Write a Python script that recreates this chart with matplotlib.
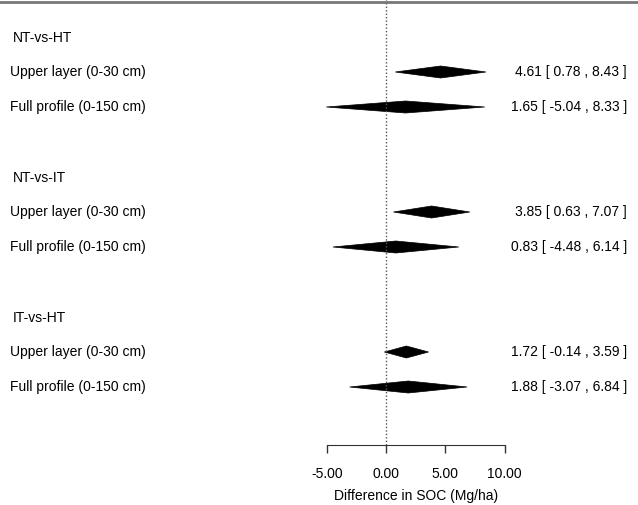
import matplotlib
matplotlib.use("Agg")
import matplotlib.pyplot as plt
from matplotlib.patches import Polygon
from matplotlib.lines import Line2D

plt.rcParams['font.family'] = ['Liberation Sans', 'DejaVu Sans']

groups = ["NT-vs-HT", "NT-vs-IT", "IT-vs-HT"]
row_labels = ["Upper layer (0-30 cm)", "Full profile (0-150 cm)"]
estimates = [4.61, 1.65, 3.85, 0.83, 1.72, 1.88]
lower = [0.78, -5.04, 0.63, -4.48, -0.14, -3.07]
upper = [8.43, 8.33, 7.07, 6.14, 3.59, 6.84]
xticks = [-5, 0, 5, 10]
xlabel = "Difference in SOC (Mg/ha)"

W, H = 638, 505
fig = plt.figure(figsize=(W / 100, H / 100), dpi=100)
axis_y = 445  # pixel row of axis line from top
ax = fig.add_axes([0, 1 - axis_y / H, 1, axis_y / H])
px_per_unit = 11.85
x0 = 386
ax.set_xlim(-x0 / px_per_unit, (W - x0) / px_per_unit)
ax.set_ylim(axis_y, 0)

group_y = [38, 178, 318]
row_off = [34, 69]
half_h = 6.0
fs = 10

k = 0
for g, gy in zip(groups, group_y):
    fig.text(13 / W, 1 - gy / H, g, ha='left', va='center', fontsize=fs)
    for lab, off in zip(row_labels, row_off):
        y = gy + off
        fig.text(10 / W, 1 - y / H, lab, ha='left', va='center', fontsize=fs)
        est, lo, hi = estimates[k], lower[k], upper[k]
        poly = Polygon([(lo, y), (est, y - half_h), (hi, y), (est, y + half_h)],
                       closed=True, facecolor='black', edgecolor='black', lw=0.5)
        ax.add_patch(poly)
        fig.text(627 / W, 1 - y / H, f"{est:.2f} [ {lo:.2f} , {hi:.2f} ]",
                 ha='right', va='center', fontsize=fs)
        k += 1

ax.axvline(0, color='#555555', lw=1, ls=(0, (1, 1.5)))

for s in ['top', 'left', 'right']:
    ax.spines[s].set_visible(False)
ax.spines['bottom'].set_bounds(xticks[0], xticks[-1])
ax.spines['bottom'].set_color('#333333')
ax.set_yticks([])
ax.set_xticks(xticks)
ax.set_xticklabels([f"{t:.2f}" for t in xticks], fontsize=fs)
ax.tick_params(axis='x', direction='out', length=6, width=1, color='#333333', pad=10)
ax.patch.set_visible(False)
ax.text((xticks[0] + xticks[-1]) / 2, 496, xlabel, ha='center', va='center',
        fontsize=fs, clip_on=False)

fig.add_artist(Line2D([0, 1], [1 - 2 / H, 1 - 2 / H], color='#777777', lw=2,
                      transform=fig.transFigure))

fig.savefig("out.png", dpi=100)
